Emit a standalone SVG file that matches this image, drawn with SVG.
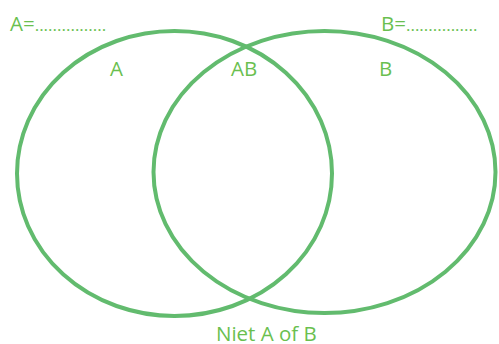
<svg xmlns="http://www.w3.org/2000/svg" width="499" height="344" viewBox="0 0 499 344">
<style>
.c{fill:none;stroke:#62bb6e;stroke-width:4}
.t{font-family:"Open Sans",sans-serif;font-size:20.5px;fill:#6abf4f}
</style>
<rect width="499" height="344" fill="#fff"/>
<g id="connectors"/>
<g id="setA"><ellipse class="c" cx="174.5" cy="173.5" rx="157.5" ry="142.5"/></g>
<g id="setB"><ellipse class="c" cx="324.5" cy="172" rx="171" ry="141"/></g>
<g id="labels">
<text class="t" x="10" y="31">A=<tspan font-size="17">................</tspan></text>
<text class="t" x="381" y="31">B=<tspan font-size="17">................</tspan></text>
<text class="t" x="110" y="76">A</text>
<text class="t" x="231" y="76">AB</text>
<text class="t" x="379" y="76">B</text>
<text class="t" x="216" y="341">Niet A of B</text>
</g>
</svg>
